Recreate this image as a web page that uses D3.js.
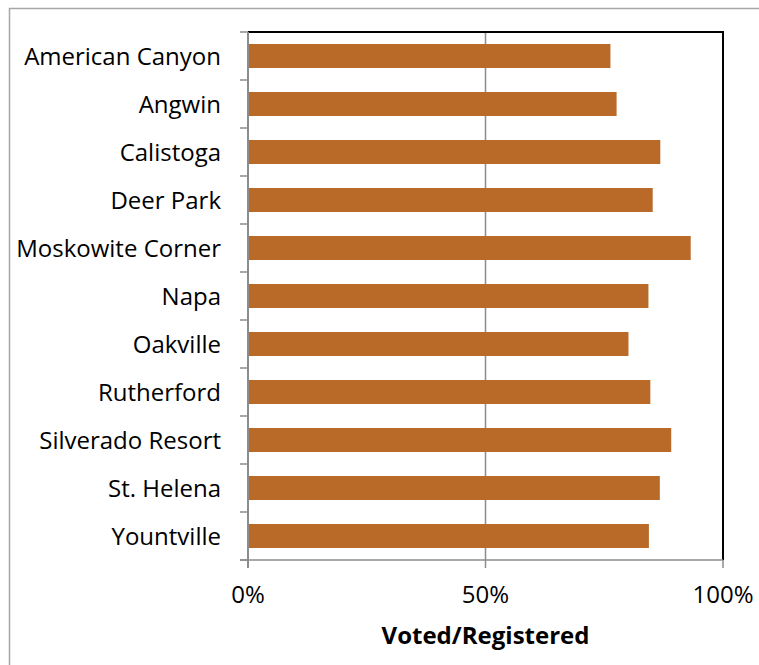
<!DOCTYPE html>
<html>
<head>
<meta charset="utf-8">
<script src="https://cdn.jsdelivr.net/npm/d3@7"></script>
<style>
  body { margin: 0; background: #fff; }
  svg { display: block; font-family: "Open Sans", sans-serif; }
</style>
</head>
<body>
<svg></svg>
<script>
const places = ['American Canyon', 'Angwin', 'Calistoga', 'Deer Park', 'Moskowite Corner', 'Napa',
  'Oakville', 'Rutherford', 'Silverado Resort', 'St. Helena', 'Yountville']
const turnout = [0.763, 0.776, 0.868, 0.852, 0.932, 0.843, 0.801, 0.847, 0.891, 0.867, 0.844]
const ticks = [0, 0.5, 1]
const xTitle = 'Voted/Registered'

const W = 759
const H = 665
const pd = { top: 32, left: 248, right: 36, bottom: 105 }
const width = W - pd.left - pd.right
const height = H - pd.top - pd.bottom
const fs = 24

const svg = d3.select('svg')
  .attr('width', W)
  .attr('height', H)

// outer frame
svg.append('rect')
  .attr('x', 9.5)
  .attr('y', 8.5)
  .attr('width', W + 10)
  .attr('height', H + 10)
  .attr('fill', 'none')
  .attr('stroke', '#a6a6a6')
  .attr('stroke-width', 1.5)

const x = d3.scaleLinear().domain([0, 1]).range([0, width])
const y = d3.scaleBand().domain(places).range([0, height]).paddingInner(0.5).paddingOuter(0.25)

const g = svg.append('g')
  .attr('transform', `translate(${pd.left}, ${pd.top})`)

// gridline
g.selectAll('line.grid')
  .data(ticks.filter(t => t > 0 && t < 1))
  .enter()
  .append('line')
  .attr('class', 'grid')
  .attr('x1', d => x(d))
  .attr('x2', d => x(d))
  .attr('y1', 0)
  .attr('y2', height)
  .attr('stroke', '#8c8c8c')
  .attr('stroke-width', 1.5)

// top and right frame of plot
g.append('path')
  .attr('d', `M0,0H${width}V${height}`)
  .attr('fill', 'none')
  .attr('stroke', '#000')
  .attr('stroke-width', 2)

g.selectAll('rect.bar')
  .data(places)
  .enter()
  .append('rect')
  .attr('class', 'bar')
  .attr('x', 1)
  .attr('y', d => y(d))
  .attr('width', (d, i) => x(turnout[i]) - 1)
  .attr('height', y.bandwidth())
  .attr('fill', '#b96a28')

// y axis with ticks between categories
const ya = g.append('g')
ya.append('line')
  .attr('x1', 0).attr('x2', 0)
  .attr('y1', 0).attr('y2', height + 8)
  .attr('stroke', '#8c8c8c')
  .attr('stroke-width', 2)
ya.selectAll('line.tick')
  .data(d3.range(places.length + 1))
  .enter()
  .append('line')
  .attr('class', 'tick')
  .attr('x1', -8).attr('x2', 0)
  .attr('y1', i => i * y.step())
  .attr('y2', i => i * y.step())
  .attr('stroke', '#8c8c8c')
  .attr('stroke-width', 1.5)
ya.selectAll('text')
  .data(places)
  .enter()
  .append('text')
  .attr('x', -27)
  .attr('y', d => y(d) + y.bandwidth() / 2)
  .attr('dy', '0.36em')
  .attr('text-anchor', 'end')
  .attr('font-size', fs)
  .attr('fill', '#000')
  .text(d => d)

// x axis
const xa = g.append('g')
  .attr('transform', `translate(0, ${height})`)
xa.append('line')
  .attr('x1', -8).attr('x2', width)
  .attr('stroke', '#8c8c8c')
  .attr('stroke-width', 1.5)
xa.selectAll('line.tick')
  .data(ticks)
  .enter()
  .append('line')
  .attr('class', 'tick')
  .attr('x1', d => x(d)).attr('x2', d => x(d))
  .attr('y1', 0).attr('y2', 8)
  .attr('stroke', '#8c8c8c')
  .attr('stroke-width', 1.5)
xa.selectAll('text')
  .data(ticks)
  .enter()
  .append('text')
  .attr('x', d => x(d))
  .attr('y', 43)
  .attr('text-anchor', 'middle')
  .attr('font-size', fs)
  .attr('fill', '#000')
  .text(d3.format('.0%'))

svg.append('text')
  .attr('x', pd.left + width / 2)
  .attr('y', 644)
  .attr('text-anchor', 'middle')
  .attr('font-size', fs)
  .attr('font-weight', 'bold')
  .attr('fill', '#000')
  .text(xTitle)
</script>
</body>
</html>
